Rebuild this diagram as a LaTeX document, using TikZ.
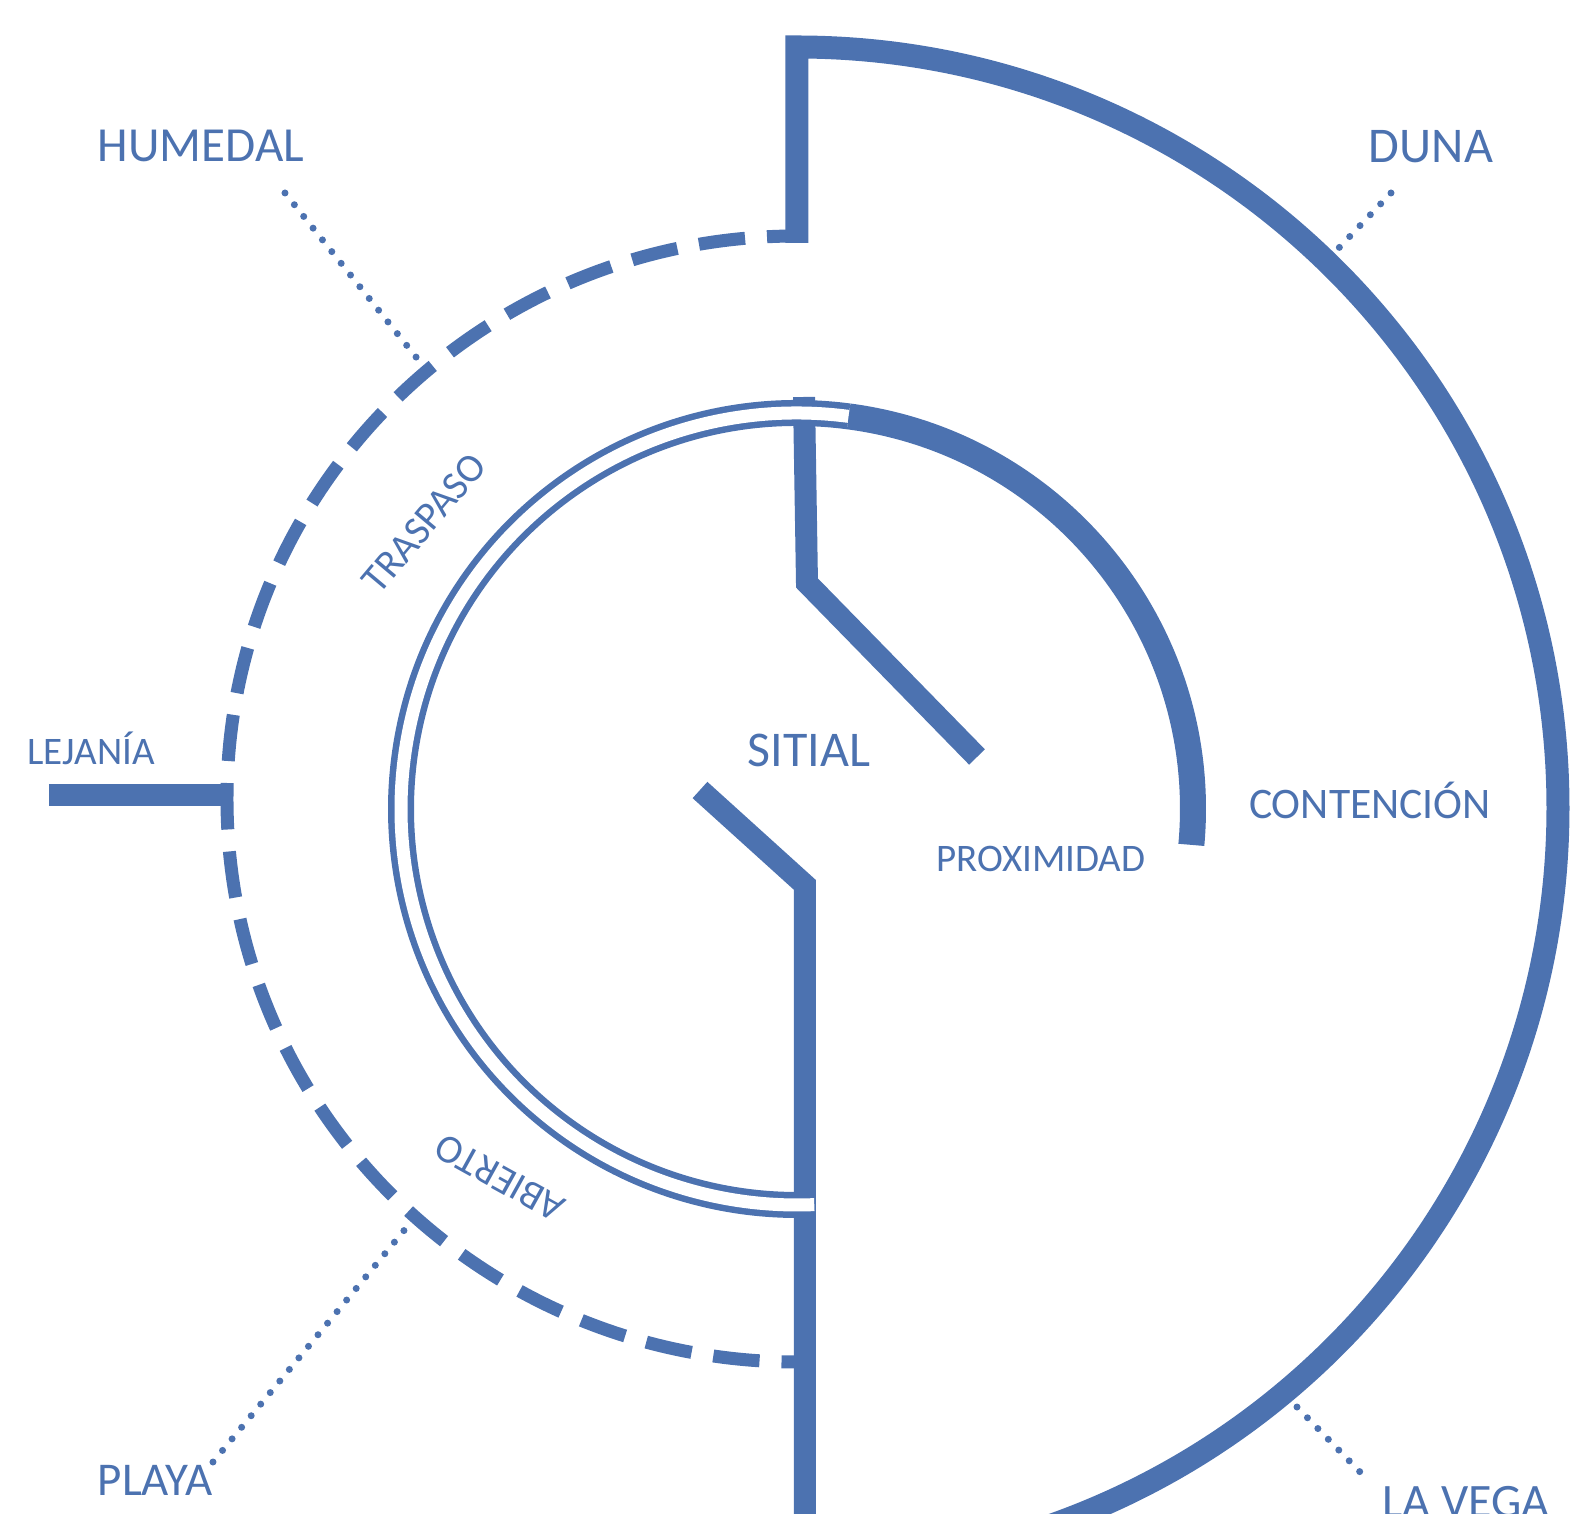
\documentclass[tikz,border=0pt]{standalone}
\usepackage{fontspec}
\setmainfont{Carlito}
\definecolor{sitialblue}{RGB}{76,114,176}
\tikzset{
  contour/.style={draw=sitialblue, line width=11.5pt, line join=miter},
  dashring/.style={draw=sitialblue, line width=6.5pt, dash pattern=on 23.25pt off 11pt, dash phase=8.25pt},
  bar/.style={draw=sitialblue, line width=11pt, line join=miter},
  dblring/.style={draw=sitialblue, line width=3.25pt, double=white, double distance=6.5pt},
  proxarc/.style={draw=sitialblue, line width=13pt},
  dotline/.style={draw=sitialblue, line width=3.5pt, line cap=round, dash pattern=on 0pt off 7.5pt},
  lbl/.style={text=sitialblue, anchor=base, inner sep=0pt, text depth=0pt},
}
\begin{document}
\begin{tikzpicture}[x=0.5pt, y=0.5pt]
  \useasboundingbox (-797,-705) rectangle (783,809);
  \clip (-797,-705) rectangle (783,809);

  % outer contour
  \draw[contour] (0,566) -- (0,762) arc[start angle=90, end angle=-75, radius=761];
  % dashed ring
  \draw[dashring] (0,573) arc[start angle=90, end angle=270, x radius=570, y radius=563];
  % lejania
  \draw[bar] (-748,14) -- (-565,14);

  % inner bars
  \draw[bar] (7,412) -- (10,226) -- (180,52);
  \draw[bar] (-97,19) -- (8,-76) -- (8,-720);

  % double ring, proximity arc
  \draw[dblring] (82.5:396) arc[start angle=82.5, end angle=272.5, radius=396];
  \draw[proxarc] (82.5:396) arc[start angle=82.5, end angle=-5.2, radius=396];

  % labels
  \node[lbl, font=\fontsize{24.5}{28}\selectfont] (humedal) at (-596,647) {HUMEDAL};
  \node[lbl, font=\fontsize{25}{28}\selectfont] (duna) at (634,646) {DUNA};
  \node[lbl, font=\fontsize{19.5}{23}\selectfont] (lejania) at (-706,44) {LEJANÍA};
  \node[lbl, font=\fontsize{25}{28}\selectfont] (sitial) at (12,42) {SITIAL};
  \node[lbl, font=\fontsize{19.5}{23}\selectfont] (proximidad) at (244,-63) {PROXIMIDAD};
  \node[lbl, font=\fontsize{21.8}{25}\selectfont] (contencion) at (573,-10) {CONTENCIÓN};
  \node[lbl, font=\fontsize{23.5}{27}\selectfont] (playa) at (-642,-686) {PLAYA};
  \node[lbl, font=\fontsize{24}{27}\selectfont] (lavega) at (669,-708) {LA VEGA};
  \node[lbl, anchor=center, rotate=50, font=\fontsize{20}{23}\selectfont] (traspaso) at (-373,286) {TRASPASO};
  \node[lbl, anchor=center, rotate=151, font=\fontsize{20}{23}\selectfont] (abierto) at (-297,-369) {ABIERTO};

  % dotted connections
  \coordinate (humedal-a) at (-512,616);
  \coordinate (humedal-b) at (-377,447);
  \coordinate (duna-a) at (594,616);
  \coordinate (duna-b) at (538,557);
  \coordinate (playa-a) at (-584,-653);
  \coordinate (playa-b) at (-381,-407);
  \coordinate (lavega-a) at (500,-598);
  \coordinate (lavega-b) at (565,-665);
  \draw[dotline] (humedal-a) -- (humedal-b);
  \draw[dotline] (duna-a) -- (duna-b);
  \draw[dotline] (playa-a) -- (playa-b);
  \draw[dotline] (lavega-a) -- (lavega-b);
\end{tikzpicture}
\end{document}
